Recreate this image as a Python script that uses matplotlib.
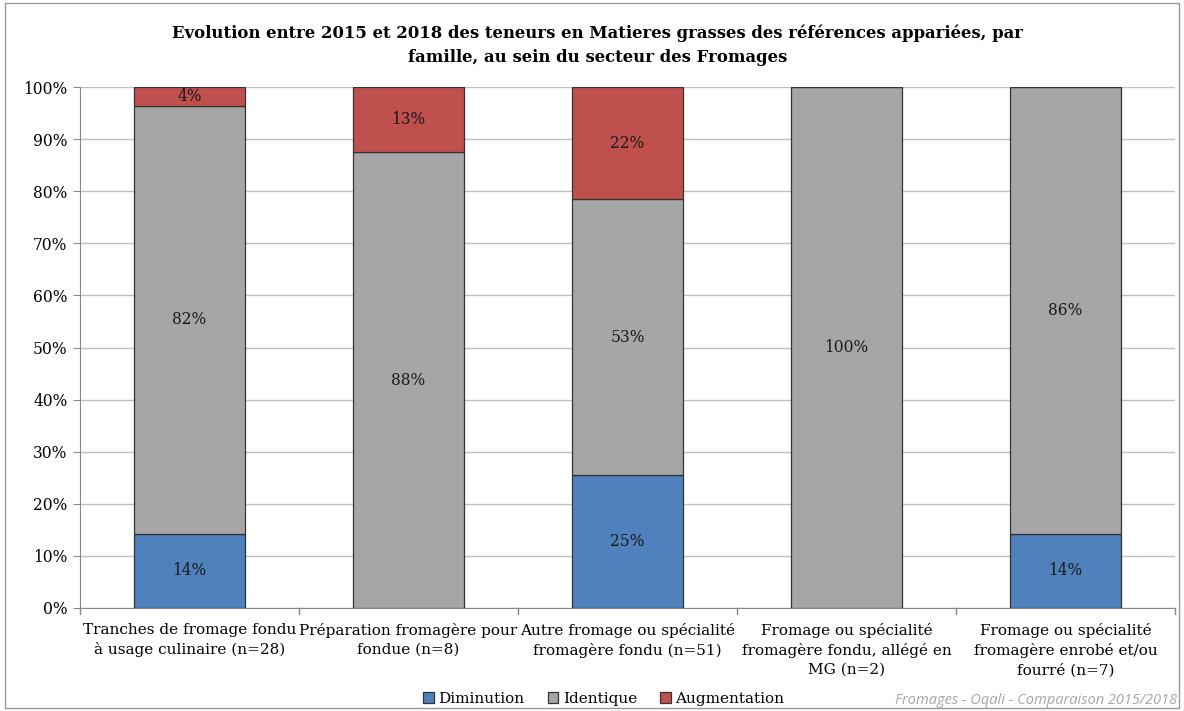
import matplotlib.pyplot as plt
import numpy as np

plt.rcParams['font.family'] = 'DejaVu Serif'

# familles et valeurs (part des references, en %)
familles = ['Tranches de fromage fondu\nà usage culinaire (n=28)',
            'Préparation fromagère pour\nfondue (n=8)',
            'Autre fromage ou spécialité\nfromagère fondu (n=51)',
            'Fromage ou spécialité\nfromagère fondu, allégé en\nMG (n=2)',
            'Fromage ou spécialité\nfromagère enrobé et/ou\nfourré (n=7)']
diminution = [14.29, 0, 25.49, 0, 14.29]
identique = [82.14, 87.5, 52.94, 100, 85.71]
augmentation = [3.57, 12.5, 21.57, 0, 0]

series = [('Diminution', diminution, '#4f81bd'),
          ('Identique', identique, '#a6a6a6'),
          ('Augmentation', augmentation, '#c0504d')]

fig = plt.figure(figsize=(11.84, 7.11), dpi=100)
ax = fig.add_axes([80/1184, 1-608/711, 1095/1184, 521/711])

x = np.arange(len(familles))
bottom = np.zeros(len(familles))
for nom, vals, col in series:
    vals = np.array(vals)
    ax.bar(x, vals, 0.51, bottom=bottom, color=col, edgecolor='#333333',
           linewidth=0.9, label=nom, zorder=3)
    for xi, b, v in zip(x, bottom, vals):
        if v > 0:
            ax.text(xi, b + v/2, '%d%%' % int(v + 0.5), ha='center', va='center',
                    fontsize=11.2, color='#1a1a1a', zorder=4)
    bottom += vals

ax.set_xlim(-0.5, len(familles) - 0.5)
ax.set_ylim(0, 100)
ax.set_yticks(range(0, 101, 10))
ax.set_yticklabels(['%d%%' % v for v in range(0, 101, 10)], fontsize=11.2)
ax.yaxis.grid(True, color='#c0c0c0', linewidth=1, zorder=0)
ax.set_xticks(x)
ax.set_xticklabels(familles, fontsize=11, linespacing=1.42)
ax.tick_params(axis='x', length=0, pad=11)
ax.tick_params(axis='y', length=5, color='#888888', pad=4)
# ticks separateurs entre les familles
for b in np.arange(-0.5, len(familles), 1.0):
    ax.plot([b, b], [0, -1.2], color='#888888', lw=1, clip_on=False)
for s in ['top', 'right']:
    ax.spines[s].set_visible(False)
ax.spines['left'].set_color('#888888')
ax.spines['bottom'].set_color('#888888')

fig.suptitle('Evolution entre 2015 et 2018 des teneurs en Matieres grasses des références appariées, par\n'
             'famille, au sein du secteur des Fromages', x=0.505, y=0.966, fontsize=11.9,
             fontweight='bold', linespacing=1.55)

fig.legend(loc='lower center', bbox_to_anchor=(0.51, -0.012), ncol=3, frameon=False,
           fontsize=11, handlelength=0.7, handleheight=0.7, handletextpad=0.3, columnspacing=1.5)

fig.text(0.994, 0.004, 'Fromages - Oqali - Comparaison 2015/2018', ha='right', va='bottom',
         fontsize=10.5, style='italic', color='#a6a6a6', family='Open Sans')

fig.patches.append(plt.Rectangle((0.004, 0.004), 0.992, 0.992, transform=fig.transFigure,
                                 fill=False, edgecolor='#999999', linewidth=1))

fig.savefig('out.png', dpi=100)
